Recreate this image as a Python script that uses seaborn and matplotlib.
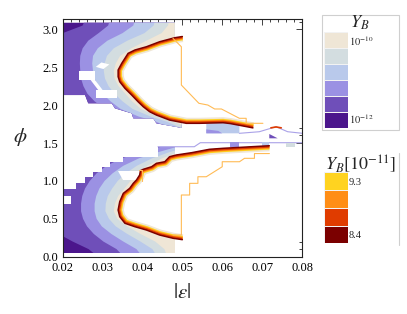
import numpy as np
import matplotlib
matplotlib.use("Agg")
import matplotlib.pyplot as plt
import seaborn as sns
from matplotlib.colors import ListedColormap
from matplotlib.patches import Polygon, Rectangle
from matplotlib.lines import Line2D

# colours of the Y_B bands, 1e-12 (dark) ... 1e-10 (beige)
BAND_COLORS = ["#4b168c", "#6f4fb9", "#9b91e3", "#b9c9eb", "#d3dde0", "#efe6d6"]
# Y_B [1e-11] bands, 8.4 ... 9.3
RED_COLORS = ["#7b0000", "#e03c00", "#ff8e16", "#ffd320"]
ORANGE = "#ffbb55"
LAVENDER = "#aaa2e8"

# ---- upper lobe: x of each band edge, read row by row (phi) ----
UP_PHI = [3.20, 3.05, 2.95, 2.85, 2.75, 2.65, 2.55, 2.45, 2.35, 2.25, 2.15, 2.05, 1.95, 1.85, 1.78, 1.60]
UP_E1 = [0.0262, 0.0250, 0.0200, 0.0150, 0.0150, 0.0150, 0.0150, 0.0150, 0.0150, 0.0150, 0.0150, 0.0150, 0.0150, 0.0150, 0.0150, 0.0150]
UP_E2 = [0.0322, 0.0314, 0.0290, 0.0264, 0.0250, 0.0244, 0.0243, 0.0244, 0.0246, 0.0252, 0.0262, 0.0280, 0.0305, 0.0345, 0.0390, 0.0470]
UP_E3 = [0.0385, 0.0377, 0.0350, 0.0312, 0.0288, 0.0276, 0.0274, 0.0276, 0.0280, 0.0288, 0.0300, 0.0320, 0.0345, 0.0390, 0.0435, 0.0510]
UP_E4 = [0.0435, 0.0428, 0.0405, 0.0362, 0.0328, 0.0311, 0.0305, 0.0303, 0.0306, 0.0315, 0.0330, 0.0350, 0.0375, 0.0420, 0.0462, 0.0540]
UP_E5 = [0.0470, 0.0464, 0.0448, 0.0410, 0.0372, 0.0344, 0.0333, 0.0328, 0.0330, 0.0340, 0.0357, 0.0374, 0.0396, 0.0438, 0.0478, 0.0570]

# upper lobe: red (Y_B ~ 8.4e-11) boundary, incl. the tail
UP_RED_X = [0.0500, 0.0481, 0.0443, 0.0410, 0.0381, 0.0364, 0.0356, 0.0348, 0.0339, 0.0339, 0.0343,
            0.0356, 0.0373, 0.0389, 0.0402, 0.0418, 0.0435, 0.0468, 0.0510, 0.0543, 0.0602, 0.0620, 0.0677]
UP_RED_PHI = [2.905, 2.889, 2.836, 2.770, 2.727, 2.683, 2.617, 2.551, 2.463, 2.375, 2.309,
              2.222, 2.133, 2.045, 1.979, 1.913, 1.869, 1.803, 1.760, 1.760, 1.768, 1.757, 1.700]

# upper lobe: outline of the computed points
UP_AREA_X = [0.0200, 0.0481, 0.0481, 0.0498, 0.0498, 0.0435, 0.0427, 0.0377,
             0.0373, 0.0331, 0.0323, 0.0264, 0.0256, 0.0200]
UP_AREA_PHI = [3.087, 3.087, 1.800, 1.800, 1.700, 1.760, 1.826, 1.826,
               1.892, 1.958, 2.024, 2.024, 2.133, 2.133]

# ---- lower lobe ----
LO_PHI = [-0.05, 0.10, 0.20, 0.30, 0.40, 0.50, 0.60, 0.70, 0.80, 0.90, 1.00, 1.10, 1.20, 1.30, 1.38, 1.50]
LO_E1 = [0.0300, 0.0265, 0.0225, 0.0190, 0.0150, 0.0150, 0.0150, 0.0150, 0.0150, 0.0150, 0.0150, 0.0150, 0.0150, 0.0150, 0.0150, 0.0150]
LO_E2 = [0.0362, 0.0335, 0.0302, 0.0278, 0.0261, 0.0251, 0.0246, 0.0246, 0.0249, 0.0256, 0.0268, 0.0285, 0.0310, 0.0348, 0.0400, 0.0480]
LO_E3 = [0.0408, 0.0385, 0.0352, 0.0322, 0.0298, 0.0285, 0.0280, 0.0280, 0.0284, 0.0292, 0.0305, 0.0325, 0.0352, 0.0392, 0.0440, 0.0520]
LO_E4 = [0.0442, 0.0425, 0.0395, 0.0362, 0.0333, 0.0316, 0.0307, 0.0308, 0.0313, 0.0324, 0.0338, 0.0358, 0.0386, 0.0425, 0.0468, 0.0550]
LO_E5 = [0.0466, 0.0455, 0.0432, 0.0395, 0.0362, 0.0337, 0.0328, 0.0331, 0.0339, 0.0355, 0.0370, 0.0384, 0.0412, 0.0450, 0.0490, 0.0580]

LO_RED_X = [0.0500, 0.0477, 0.0443, 0.0410, 0.0381, 0.0356, 0.0343, 0.0339, 0.0343, 0.0352, 0.0368, 0.0377, 0.0385,
            0.0393, 0.0395, 0.0402, 0.0423, 0.0435, 0.0456, 0.0468, 0.0485, 0.0523, 0.0568, 0.0602, 0.0718]
LO_RED_PHI = [0.225, 0.243, 0.286, 0.352, 0.396, 0.441, 0.528, 0.616, 0.726, 0.836, 0.902, 0.968, 1.012,
              1.078, 1.135, 1.153, 1.187, 1.232, 1.253, 1.319, 1.342, 1.372, 1.417, 1.430, 1.464]

LO_AREA_X = [0.0200, 0.0481, 0.0481, 0.0438, 0.0438, 0.0351, 0.0351, 0.0318, 0.0318, 0.0298, 0.0298,
             0.0275, 0.0275, 0.0255, 0.0255, 0.0233, 0.0233, 0.0200]
LO_AREA_PHI = [0.053, 0.053, 1.443, 1.443, 1.319, 1.319, 1.253, 1.253, 1.190, 1.190, 1.120,
               1.120, 1.045, 1.045, 0.968, 0.968, 0.889, 0.889]

# missing points inside the lobes
HOLES = [
    ([0.0283, 0.0297, 0.0317, 0.0302], [2.505, 2.563, 2.537, 2.476]),
    ([0.0241, 0.0281, 0.0281, 0.0241], [2.331, 2.331, 2.450, 2.450]),
    ([0.0270, 0.0281, 0.0300, 0.0289], [2.331, 2.331, 2.200, 2.200]),
    ([0.0283, 0.0337, 0.0337, 0.0283], [2.090, 2.090, 2.200, 2.200]),
    ([0.0200, 0.0222, 0.0222, 0.0200], [0.691, 0.691, 0.801, 0.801]),
    ([0.0339, 0.0395, 0.0395, 0.0350], [1.135, 1.135, 1.012, 1.012]),
]

# pieces between the lobes
UP_TAIL_X = [0.0560, 0.0643, 0.0643, 0.0620, 0.0602, 0.0560]
UP_TAIL_PHI = [1.628, 1.628, 1.734, 1.757, 1.768, 1.758]
UP_TAIL_DARK_X = [0.0560, 0.0600, 0.0590, 0.0560]
UP_TAIL_DARK_PHI = [1.628, 1.628, 1.660, 1.680]
UP_TAIL_LINE_X = [0.0643, 0.0693, 0.0735, 0.0764, 0.0801]
UP_TAIL_LINE_PHI = [1.628, 1.649, 1.715, 1.649, 1.628]
TRI_X = [0.0718, 0.0739, 0.0718]
TRI_PHI = [1.619, 1.562, 1.562]
BUMP_X = [0.0722, 0.0735, 0.0748]
BUMP_PHI = [1.700, 1.712, 1.700]
LO_TAIL_LINE_X = [0.0439, 0.0530, 0.0545, 0.0800]
LO_TAIL_LINE_PHI = [1.451, 1.451, 1.504, 1.504]
LO_BLOCKS = [(0.0619, 0.0643, 1.443, 1.509), (0.0700, 0.0718, 1.466, 1.509), (0.0760, 0.0782, 1.443, 1.500)]

# light orange staircase contours
UP_ORANGE_X = [0.04765, 0.04975, 0.04975, 0.05415, 0.0564, 0.0581, 0.0598, 0.0643, 0.0660, 0.0660, 0.0702]
UP_ORANGE_PHI = [2.881, 2.770, 2.265, 2.024, 2.001, 1.949, 1.949, 1.826, 1.826, 1.760, 1.760]
LO_ORANGE_X = [0.04765, 0.04975, 0.04975, 0.05183, 0.05183, 0.0539, 0.0539, 0.0560, 0.0600, 0.0600,
               0.06433, 0.06558, 0.06808, 0.06808, 0.07183]
LO_ORANGE_PHI = [0.286, 0.286, 0.814, 0.814, 0.968, 0.968, 1.055, 1.055, 1.187, 1.253,
                 1.253, 1.298, 1.298, 1.361, 1.361]
NOTCH_ORANGE_X = [0.03915, 0.0399, 0.0399]
NOTCH_ORANGE_PHI = [1.144, 1.144, 1.003]

X_TICKS = [0.02, 0.03, 0.04, 0.05, 0.06, 0.07, 0.08]
Y_TICKS = [0.0, 0.5, 1.0, 1.5, 2.0, 2.5, 3.0]
LEG1_LABELS = [r"$10^{-10}$", r"$10^{-12}$"]
LEG2_LABELS = ["9.3", "8.4"]

sns.set_style("white")
plt.rcParams["font.family"] = ["Liberation Serif", "DejaVu Serif"]
plt.rcParams["mathtext.fontset"] = "stix"

W, H = 407, 314
fig = plt.figure(figsize=(W / 100, H / 100), dpi=100)


def fx(px):
    return px / W


def fy(py):
    return 1 - py / H


ax = fig.add_axes([fx(62.7), fy(256.7), (302 - 62.7) / W, (256.7 - 18.6) / H])
ax.set_xlim(0.02, 0.08)
ax.set_ylim(0, np.pi)


def draw_lobe(area_x, area_phi, rows, edges, red_x, red_phi):
    area = Polygon(np.column_stack([area_x, area_phi]), closed=True,
                   facecolor=BAND_COLORS[0], edgecolor="none", zorder=1)
    ax.add_patch(area)
    for k, edge in enumerate(edges):
        xs = list(edge) + [0.09, 0.09]
        ys = list(rows) + [rows[-1], rows[0]]
        for p in ax.fill(xs, ys, color=BAND_COLORS[k + 1], lw=0, zorder=2 + k):
            p.set_clip_path(area)
    inside = Polygon(np.column_stack([list(red_x) + [0.09, 0.09],
                                      list(red_phi) + [red_phi[-1], red_phi[0]]]),
                     closed=True, facecolor="white", edgecolor="none", zorder=9)
    return inside


up_inside = draw_lobe(UP_AREA_X, UP_AREA_PHI, UP_PHI, [UP_E1, UP_E2, UP_E3, UP_E4, UP_E5], UP_RED_X, UP_RED_PHI)
lo_inside = draw_lobe(LO_AREA_X, LO_AREA_PHI, LO_PHI, [LO_E1, LO_E2, LO_E3, LO_E4, LO_E5], LO_RED_X, LO_RED_PHI)

for hx, hy in HOLES:
    ax.fill(hx, hy, color="white", lw=0, zorder=8)

for inside, rx, ry in [(up_inside, UP_RED_X, UP_RED_PHI), (lo_inside, LO_RED_X, LO_RED_PHI)]:
    ax.add_patch(inside)
    # glow on the inner side of the boundary
    for lw, col in [(8.0, BAND_COLORS[5]), (5.6, RED_COLORS[3]), (4.2, RED_COLORS[2]), (2.8, RED_COLORS[1])]:
        ln, = ax.plot(rx, ry, color=col, lw=lw, solid_joinstyle="round", solid_capstyle="butt", zorder=10)
        ln.set_clip_path(inside)
    ax.plot(rx, ry, color=RED_COLORS[0], lw=1.1, solid_joinstyle="round", zorder=12)

# pieces between the lobes
ax.fill(UP_TAIL_X, UP_TAIL_PHI, color=BAND_COLORS[3], lw=0, zorder=11)
ax.fill(UP_TAIL_DARK_X, UP_TAIL_DARK_PHI, color=BAND_COLORS[2], lw=0, zorder=11)
ax.fill(TRI_X, TRI_PHI, color=BAND_COLORS[1], lw=0, zorder=11)
ax.plot(UP_TAIL_LINE_X, UP_TAIL_LINE_PHI, color=LAVENDER, lw=0.8, zorder=11)
ax.plot(BUMP_X, BUMP_PHI, color=RED_COLORS[1], lw=1.2, zorder=12)
ax.plot(LO_TAIL_LINE_X, LO_TAIL_LINE_PHI, color=LAVENDER, lw=0.8, zorder=11)
for (x0, x1, y0, y1), col in zip(LO_BLOCKS, [BAND_COLORS[2], BAND_COLORS[3], BAND_COLORS[4]]):
    ax.fill([x0, x1, x1, x0], [y0, y0, y1, y1], color=col, lw=0, zorder=11)

ax.plot(UP_ORANGE_X, UP_ORANGE_PHI, color=ORANGE, lw=0.8, zorder=13)
ax.plot(LO_ORANGE_X, LO_ORANGE_PHI, color=ORANGE, lw=0.8, zorder=13)
ax.plot(NOTCH_ORANGE_X, NOTCH_ORANGE_PHI, color=ORANGE, lw=0.8, zorder=13)

# frame and ticks
ax.set_xticks(X_TICKS)
ax.set_xticklabels([f"{t:.2f}" for t in X_TICKS])
ax.set_yticks(Y_TICKS)
ax.set_yticklabels([f"{t:.1f}" for t in Y_TICKS])
ax.set_xticks(np.arange(0.02, 0.0801, 0.002), minor=True)
ax.set_yticks(np.arange(0.0, 3.15, 0.1), minor=True)
ax.tick_params(which="both", direction="in", top=True, right=True, colors="#222222",
               labelsize=9, labelcolor="black", width=0.6)
ax.tick_params(which="major", length=4.5)
ax.tick_params(which="minor", length=2.5)
ax.tick_params(axis="x", which="major", pad=4)
ax.tick_params(axis="y", which="major", pad=3)
for s in ax.spines.values():
    s.set_color("#222222")
    s.set_linewidth(0.8)
    s.set_zorder(20)

fig.text(fx(182), fy(293), r"$|\epsilon|$", fontsize=15, ha="center", va="center")
fig.text(fx(20), fy(137), r"$\phi$", fontsize=15, ha="center", va="center")

# legend 1: Y_B bands
fig.add_artist(Rectangle((fx(322.3), fy(130)), (398.7 - 322.3) / W, 115 / H,
                         transform=fig.transFigure, fill=False, ec="#cfcfcf", lw=0.8))
cax1 = fig.add_axes([fx(324), fy(127.7), 24.3 / W, 95.4 / H])
sns.heatmap(np.arange(len(BAND_COLORS))[::-1].reshape(-1, 1), ax=cax1, cmap=ListedColormap(BAND_COLORS),
            vmin=-0.5, vmax=len(BAND_COLORS) - 0.5, cbar=False, xticklabels=False, yticklabels=False,
            linewidths=0.4, linecolor="#f2f2f2")
fig.text(fx(360), fy(23), r"$Y_B$", fontsize=13, ha="center", va="center")
fig.text(fx(349), fy(41), LEG1_LABELS[0], fontsize=7.5, ha="left", va="center")
fig.text(fx(349), fy(119.5), LEG1_LABELS[1], fontsize=7.5, ha="left", va="center")

# legend 2: Y_B [1e-11]
fig.add_artist(Line2D([fx(399), fx(399)], [fy(153), fy(245)], transform=fig.transFigure,
                      color="#cfcfcf", lw=0.8))
cax2 = fig.add_axes([fx(324), fy(243.3), 24.3 / W, 71 / H])
sns.heatmap(np.arange(len(RED_COLORS))[::-1].reshape(-1, 1), ax=cax2, cmap=ListedColormap(RED_COLORS),
            vmin=-0.5, vmax=len(RED_COLORS) - 0.5, cbar=False, xticklabels=False, yticklabels=False,
            linewidths=0.4, linecolor="#f2f2f2")
fig.text(fx(360.5), fy(164), r"$Y_B[10^{-11}]$", fontsize=13, ha="center", va="center")
fig.text(fx(349), fy(182.5), LEG2_LABELS[0], fontsize=7.5, ha="left", va="center")
fig.text(fx(349), fy(235), LEG2_LABELS[1], fontsize=7.5, ha="left", va="center")

fig.savefig("out.png", dpi=100)
